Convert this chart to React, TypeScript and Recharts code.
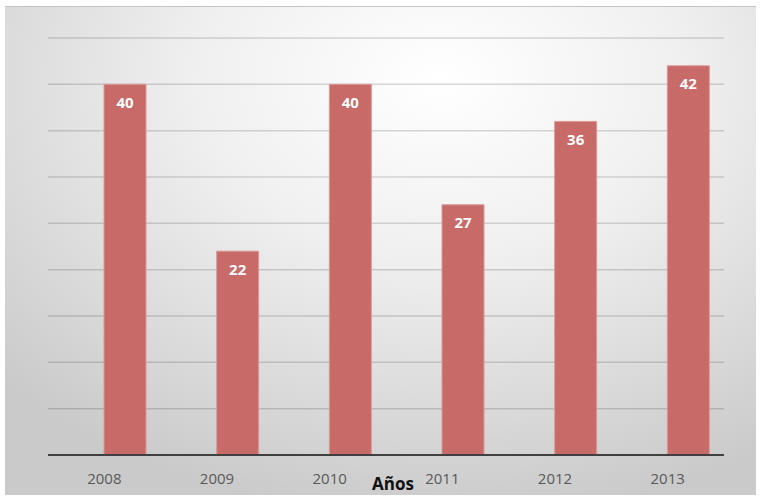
import React from "react"
import { BarChart, Bar, XAxis, YAxis, CartesianGrid, LabelList, Label } from "recharts"

const anios = ["2008", "2009", "2010", "2011", "2012", "2013"]
const valores = [40, 22, 40, 27, 36, 42]
const yTicks = [0, 5, 10, 15, 20, 25, 30, 35, 40, 45]

const data = anios.map((anio, i) => ({ anio, valor: valores[i], hueco: valores[i] }))

const font = "'Open Sans', 'Liberation Sans', sans-serif"

export default function App() {
  return (
    <div style={{ position: "fixed", left: 0, top: 0, width: 763, height: 502, background: "#fff" }}>
      <div
        style={{
          position: "absolute",
          left: 5,
          top: 6,
          width: 751,
          height: 488,
          borderTop: "1px solid #c4c4c4",
          background: "radial-gradient(ellipse 80% 90% at 58% 15%, #ffffff 0%, #f0f0f0 40%, #d8d8d8 78%, #cacaca 100%)",
        }}
      />
      <div style={{ position: "absolute", left: 0, top: 0 }}>
        <BarChart
          width={763}
          height={502}
          data={data}
          margin={{ top: 38, right: 39, bottom: 17, left: 48 }}
          barGap={0}
          barSize={42}
        >
          <CartesianGrid vertical={false} stroke="#000" strokeOpacity={0.15} strokeWidth={1.5} />
          <YAxis hide domain={[0, 45]} ticks={yTicks} />
          <XAxis
            dataKey="anio"
            height={30}
            tickLine={false}
            axisLine={{ stroke: "#404040", strokeWidth: 2 }}
            tickMargin={12}
            tick={{ fill: "#595959", fontSize: 15, fontFamily: font }}
          >
            <Label
              value="Años"
              position="bottom"
              offset={-7}
              dx={7}
              style={{ fill: "#111", fontSize: 17, fontWeight: 700, fontFamily: font }}
            />
          </XAxis>
          <Bar dataKey="hueco" fill="transparent" isAnimationActive={false} />
          <Bar dataKey="valor" fill="#c76a68" stroke="#dc9896" strokeWidth={1} isAnimationActive={false}>
            <LabelList
              dataKey="valor"
              position="insideTop"
              offset={13}
              style={{ fill: "#fff", fontSize: 15, fontWeight: 700, fontFamily: font }}
            />
          </Bar>
        </BarChart>
      </div>
    </div>
  )
}
